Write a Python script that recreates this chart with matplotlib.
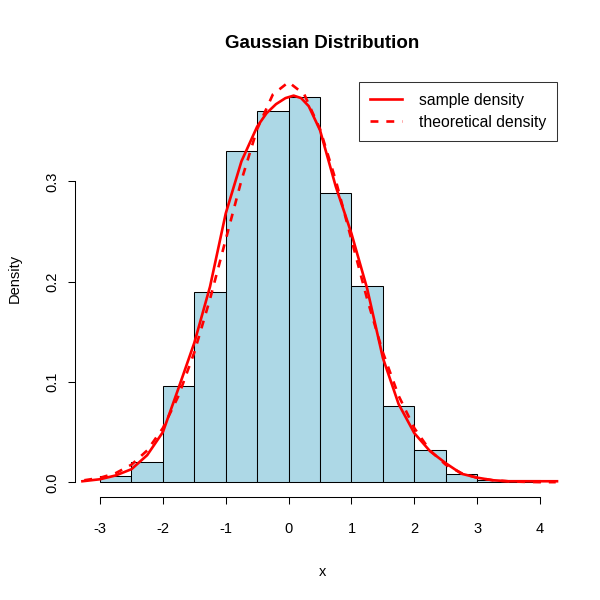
import matplotlib
matplotlib.use("Agg")
import matplotlib.pyplot as plt
import numpy as np

# histogram (density scale), bins of width 0.5
bin_edges = [-3.0, -2.5, -2.0, -1.5, -1.0, -0.5, 0.0, 0.5, 1.0, 1.5, 2.0, 2.5, 3.0, 3.5, 4.0]
bin_density = [0.006, 0.020, 0.096, 0.190, 0.330, 0.370, 0.384, 0.288, 0.196, 0.076, 0.032, 0.008, 0.002, 0.002]

# sample (kernel) density
sample_x = [-3.28, -3.0, -2.75, -2.5, -2.25, -2.0, -1.75, -1.5, -1.25, -1.0, -0.75, -0.5, -0.35, -0.2,
            -0.05, 0.08, 0.2, 0.32, 0.5, 0.75, 1.0, 1.25, 1.5, 1.75, 2.0, 2.25, 2.5, 2.75, 3.0, 3.25, 3.5,
            3.75, 4.0, 4.27]
sample_y = [0.001, 0.003, 0.0068, 0.013, 0.027, 0.050, 0.094, 0.139, 0.195, 0.268, 0.320, 0.3546, 0.368, 0.377,
            0.383, 0.3855, 0.383, 0.375, 0.351, 0.295, 0.248, 0.193, 0.124, 0.078, 0.049, 0.031, 0.019,
            0.0085, 0.0046, 0.002, 0.001, 0.001, 0.001, 0.001]

# theoretical density
theo_x = [-3.25, -3.0, -2.75, -2.5, -2.25, -2.0, -1.75, -1.5, -1.25, -1.0, -0.75, -0.5, -0.25, 0.0,
          0.25, 0.5, 0.75, 1.0, 1.25, 1.5, 1.75, 2.0, 2.25, 2.5, 2.75, 3.0, 3.25, 3.5, 3.75, 4.0, 4.25]
theo_y = [0.0020, 0.0044, 0.0091, 0.0175, 0.0317, 0.0540, 0.0863, 0.1295, 0.1826, 0.2420, 0.3011, 0.3521,
          0.3867, 0.3989, 0.3867, 0.3521, 0.3011, 0.2420, 0.1826, 0.1295, 0.0863, 0.0540, 0.0317, 0.0175,
          0.0091, 0.0044, 0.0020, 0.0009, 0.0004, 0.0001, 0.0001]

x_ticks = [-3, -2, -1, 0, 1, 2, 3, 4]
y_ticks = [0.0, 0.1, 0.2, 0.3]

plt.rcParams["font.family"] = ["Liberation Sans", "DejaVu Sans"]

fig = plt.figure(figsize=(6, 6), dpi=100, facecolor="white")
ax = fig.add_axes([75 / 600, 103 / 600, 495 / 600, 438 / 600])

lefts = bin_edges[:-1]
widths = np.diff(bin_edges)
ax.bar(lefts, bin_density, width=widths, align="edge", color="#ADD8E6",
       edgecolor="black", linewidth=0.75, zorder=1)

ax.plot(sample_x, sample_y, color="red", linewidth=1.9, label="sample density", zorder=3)
ax.plot(theo_x, theo_y, color="red", linewidth=1.9, linestyle=(0, (3.0, 3.0)),
        label="theoretical density", zorder=3)

ax.set_xlim(-3.398, 4.477)
ax.set_ylim(-0.0147, 0.422)

for side in ["top", "right"]:
    ax.spines[side].set_visible(False)
ax.spines["bottom"].set_bounds(-3, 4)
ax.spines["left"].set_bounds(0, 0.3)
ax.spines["bottom"].set_linewidth(0.75)
ax.spines["left"].set_linewidth(0.75)

ax.set_xticks(x_ticks)
ax.set_xticklabels([str(t) for t in x_ticks])
ax.set_yticks(y_ticks)
ax.set_yticklabels([f"{t:.1f}" for t in y_ticks], rotation=90, va="center")
ax.tick_params(axis="both", length=5.2, width=0.75, labelsize=10.5)
ax.tick_params(axis="x", pad=13)
ax.tick_params(axis="y", pad=6)

ax.set_xlabel("x", fontsize=10.5, labelpad=21)
ax.set_ylabel("Density", fontsize=10.5, labelpad=17)
ax.set_title("Gaussian Distribution", fontsize=13.5, fontweight="bold", pad=8)

leg = ax.legend(loc="upper right", bbox_to_anchor=(557 / 600, 518 / 600), bbox_transform=fig.transFigure,
                fontsize=11.3, frameon=True, fancybox=False, handlelength=2.0, borderpad=0.7,
                labelspacing=0.42, handletextpad=1.1, borderaxespad=0)
leg.get_frame().set_edgecolor("black")
leg.get_frame().set_linewidth(0.75)

fig.savefig("out.png", dpi=100, facecolor="white")
